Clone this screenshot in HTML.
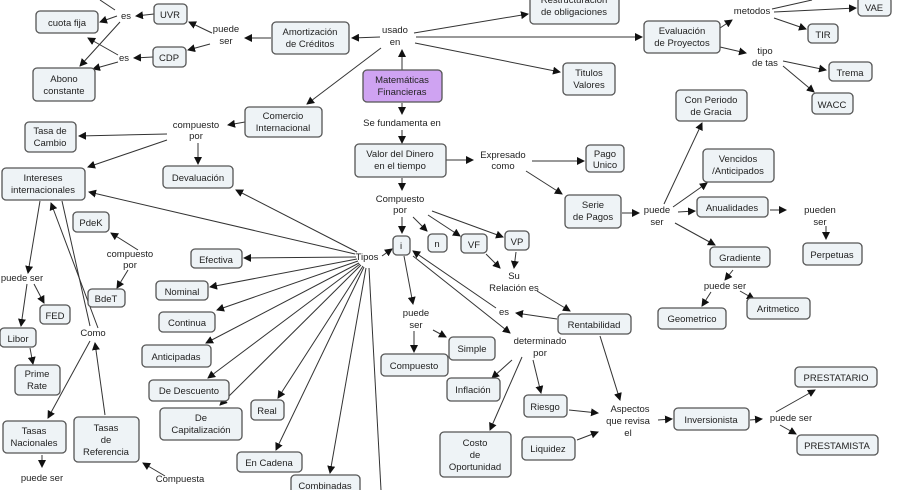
<!DOCTYPE html>
<html><head><meta charset="utf-8"><style>
html,body{margin:0;padding:0;background:#fff;width:900px;height:490px;overflow:hidden}
svg{display:block}
text{font-family:"Liberation Sans",sans-serif;font-size:9.5px;fill:#222;text-anchor:middle}
.b{fill:#eef3f6;stroke:#555;stroke-width:1.3}
.l{stroke:#333;stroke-width:1;fill:none;marker-end:url(#a)}
.n{stroke:#333;stroke-width:1;fill:none}
</style></head><body>
<svg width="900" height="490" viewBox="0 0 900 490">
<defs><marker id="a" markerWidth="8" markerHeight="8" refX="7" refY="4" orient="auto" markerUnits="userSpaceOnUse"><path d="M0,0 L8,4 L0,8 z" fill="#111"/></marker></defs>
<g>
<!-- edges -->
<line class="l" x1="154" y1="14" x2="136" y2="16"/>
<line class="l" x1="117" y1="16" x2="100" y2="22"/>
<line class="n" x1="115" y1="10" x2="100" y2="0"/>
<line class="l" x1="120" y1="22" x2="80" y2="66"/>
<line class="l" x1="153" y1="57" x2="134" y2="58"/>
<line class="l" x1="118" y1="55" x2="88" y2="38"/>
<line class="l" x1="118" y1="62" x2="93" y2="69"/>
<line class="l" x1="212" y1="33" x2="189" y2="22"/>
<line class="l" x1="210" y1="44" x2="188" y2="50"/>
<line class="l" x1="271" y1="38" x2="245" y2="38"/>
<line class="l" x1="380" y1="37" x2="352" y2="38"/>
<line class="l" x1="402" y1="70" x2="402" y2="50"/>
<line class="l" x1="414" y1="33" x2="528" y2="14"/>
<line class="l" x1="416" y1="37" x2="642" y2="37"/>
<line class="l" x1="415" y1="43" x2="560" y2="72"/>
<line class="l" x1="381" y1="48" x2="307" y2="104"/>
<line class="l" x1="720" y1="28" x2="732" y2="20"/>
<line class="n" x1="772" y1="9" x2="812" y2="0"/>
<line class="l" x1="774" y1="12" x2="856" y2="8"/>
<line class="l" x1="774" y1="18" x2="806" y2="29"/>
<line class="l" x1="720" y1="47" x2="746" y2="53"/>
<line class="l" x1="783" y1="61" x2="826" y2="70"/>
<line class="l" x1="783" y1="66" x2="814" y2="92"/>
<line class="l" x1="402" y1="103" x2="402" y2="114"/>
<line class="l" x1="402" y1="130" x2="402" y2="143"/>
<line class="l" x1="245" y1="122" x2="228" y2="125"/>
<line class="l" x1="167" y1="134" x2="79" y2="136"/>
<line class="l" x1="167" y1="140" x2="88" y2="167"/>
<line class="l" x1="198" y1="143" x2="198" y2="164"/>
<line class="l" x1="402" y1="178" x2="402" y2="190"/>
<line class="l" x1="446" y1="160" x2="473" y2="160"/>
<line class="l" x1="532" y1="161" x2="584" y2="161"/>
<line class="l" x1="526" y1="171" x2="562" y2="194"/>
<line class="l" x1="402" y1="217" x2="402" y2="233"/>
<line class="l" x1="413" y1="217" x2="427" y2="231"/>
<line class="l" x1="428" y1="215" x2="460" y2="236"/>
<line class="l" x1="432" y1="211" x2="503" y2="237"/>
<line class="l" x1="622" y1="213" x2="639" y2="213"/>
<line class="l" x1="664" y1="204" x2="702" y2="123"/>
<line class="l" x1="673" y1="207" x2="707" y2="183"/>
<line class="l" x1="678" y1="212" x2="695" y2="211"/>
<line class="l" x1="675" y1="223" x2="715" y2="245"/>
<line class="l" x1="770" y1="210" x2="786" y2="210"/>
<line class="l" x1="826" y1="226" x2="826" y2="239"/>
<line class="l" x1="733" y1="270" x2="725" y2="280"/>
<line class="l" x1="711" y1="292" x2="702" y2="306"/>
<line class="l" x1="740" y1="291" x2="754" y2="299"/>
<line class="l" x1="486" y1="254" x2="500" y2="268"/>
<line class="l" x1="516" y1="252" x2="514" y2="268"/>
<line class="l" x1="537" y1="291" x2="570" y2="311"/>
<line class="l" x1="557" y1="319" x2="516" y2="313"/>
<line class="l" x1="496" y1="308" x2="413" y2="251"/>
<line class="l" x1="413" y1="256" x2="510" y2="333"/>
<line class="l" x1="512" y1="360" x2="492" y2="378"/>
<line class="l" x1="522" y1="357" x2="490" y2="430"/>
<line class="l" x1="533" y1="360" x2="541" y2="393"/>
<line class="l" x1="569" y1="410" x2="598" y2="413"/>
<line class="l" x1="577" y1="440" x2="598" y2="432"/>
<line class="l" x1="600" y1="336" x2="620" y2="400"/>
<line class="l" x1="658" y1="420" x2="672" y2="419"/>
<line class="l" x1="750" y1="420" x2="762" y2="419"/>
<line class="l" x1="776" y1="412" x2="815" y2="390"/>
<line class="l" x1="780" y1="425" x2="796" y2="434"/>
<line class="l" x1="404" y1="256" x2="413" y2="304"/>
<line class="l" x1="414" y1="331" x2="414" y2="352"/>
<line class="l" x1="433" y1="330" x2="446" y2="337"/>
<line class="l" x1="382" y1="256" x2="392" y2="249"/>
<line class="l" x1="355" y1="254" x2="89" y2="192"/>
<line class="l" x1="357" y1="252" x2="236" y2="190"/>
<line class="l" x1="356" y1="257" x2="244" y2="258"/>
<line class="l" x1="357" y1="259" x2="210" y2="287"/>
<line class="l" x1="358" y1="261" x2="217" y2="310"/>
<line class="l" x1="359" y1="263" x2="206" y2="343"/>
<line class="l" x1="360" y1="264" x2="208" y2="378"/>
<line class="l" x1="361" y1="265" x2="220" y2="405"/>
<line class="l" x1="363" y1="266" x2="278" y2="398"/>
<line class="l" x1="364" y1="267" x2="276" y2="450"/>
<line class="l" x1="366" y1="268" x2="330" y2="473"/>
<line class="n" x1="369" y1="268" x2="381" y2="490"/>
<line class="l" x1="138" y1="250" x2="111" y2="233"/>
<line class="l" x1="128" y1="270" x2="117" y2="288"/>
<line class="l" x1="40" y1="201" x2="28" y2="273"/>
<line class="n" x1="62" y1="201" x2="90" y2="326"/>
<line class="l" x1="98" y1="328" x2="51" y2="203"/>
<line class="l" x1="27" y1="284" x2="21" y2="326"/>
<line class="l" x1="34" y1="284" x2="44" y2="303"/>
<line class="l" x1="30" y1="348" x2="33" y2="364"/>
<line class="l" x1="90" y1="341" x2="48" y2="418"/>
<line class="l" x1="105" y1="415" x2="95" y2="343"/>
<line class="l" x1="42" y1="455" x2="42" y2="467"/>
<line class="l" x1="165" y1="476" x2="143" y2="463"/>
<!-- nodes -->
<rect class="b" x="36" y="11" width="62" height="22" rx="4"/><text x="67" y="26">cuota fija</text>
<rect class="b" x="154" y="4" width="33" height="20" rx="4"/><text x="170" y="18">UVR</text>
<rect class="b" x="153" y="47" width="33" height="20" rx="4"/><text x="169" y="61">CDP</text>
<rect class="b" x="33" y="68" width="62" height="33" rx="4"/><text x="64" y="82">Abono</text><text x="64" y="94">constante</text>
<rect class="b" x="272" y="22" width="77" height="32" rx="4"/><text x="310" y="35">Amortización</text><text x="310" y="47">de Créditos</text>
<rect class="b" x="530" y="-8" width="89" height="32" rx="4"/><text x="574" y="3">Restructuración</text><text x="574" y="15">de obligaciones</text>
<rect class="b" x="644" y="21" width="76" height="32" rx="4"/><text x="682" y="34">Evaluación</text><text x="682" y="46">de Proyectos</text>
<rect class="b" x="858" y="-3" width="33" height="19" rx="4"/><text x="874" y="11">VAE</text>
<rect class="b" x="808" y="24" width="30" height="19" rx="4"/><text x="823" y="38">TIR</text>
<rect class="b" x="829" y="62" width="43" height="19" rx="4"/><text x="850" y="76">Trema</text>
<rect class="b" x="812" y="93" width="41" height="21" rx="4"/><text x="832" y="108">WACC</text>
<rect class="b" x="563" y="63" width="52" height="32" rx="4"/><text x="589" y="76">Titulos</text><text x="589" y="88">Valores</text>
<rect x="363" y="70" width="79" height="32" rx="4" fill="#cfa3f2" stroke="#555" stroke-width="1.3"/><text x="402" y="83">Matemáticas</text><text x="402" y="95">Financieras</text>
<rect class="b" x="245" y="107" width="77" height="30" rx="4"/><text x="283" y="119">Comercio</text><text x="283" y="131">Internacional</text>
<rect class="b" x="25" y="122" width="51" height="30" rx="4"/><text x="50" y="134">Tasa de</text><text x="50" y="146">Cambio</text>
<rect class="b" x="2" y="168" width="83" height="32" rx="4"/><text x="43" y="181">Intereses</text><text x="43" y="193">internacionales</text>
<rect class="b" x="163" y="166" width="70" height="22" rx="4"/><text x="198" y="181">Devaluación</text>
<rect class="b" x="355" y="144" width="91" height="33" rx="4"/><text x="400" y="157">Valor del Dinero</text><text x="400" y="169">en el tiempo</text>
<rect class="b" x="586" y="145" width="38" height="27" rx="4"/><text x="605" y="157">Pago</text><text x="605" y="168">Unico</text>
<rect class="b" x="565" y="195" width="56" height="33" rx="4"/><text x="593" y="208">Serie</text><text x="593" y="220">de Pagos</text>
<rect class="b" x="676" y="90" width="71" height="31" rx="4"/><text x="711" y="103">Con Periodo</text><text x="711" y="115">de Gracia</text>
<rect class="b" x="703" y="149" width="71" height="33" rx="4"/><text x="738" y="162">Vencidos</text><text x="738" y="174">/Anticipados</text>
<rect class="b" x="697" y="197" width="71" height="20" rx="4"/><text x="732" y="211">Anualidades</text>
<rect class="b" x="803" y="243" width="59" height="22" rx="4"/><text x="832" y="258">Perpetuas</text>
<rect class="b" x="710" y="247" width="60" height="20" rx="4"/><text x="740" y="261">Gradiente</text>
<rect class="b" x="658" y="308" width="68" height="21" rx="4"/><text x="692" y="322">Geometrico</text>
<rect class="b" x="747" y="298" width="63" height="21" rx="4"/><text x="778" y="312">Aritmetico</text>
<rect class="b" x="393" y="236" width="17" height="19" rx="4"/><text x="401" y="249">i</text>
<rect class="b" x="428" y="234" width="19" height="18" rx="4"/><text x="437" y="247">n</text>
<rect class="b" x="461" y="234" width="26" height="19" rx="4"/><text x="474" y="248">VF</text>
<rect class="b" x="505" y="231" width="24" height="19" rx="4"/><text x="517" y="245">VP</text>
<rect class="b" x="73" y="212" width="36" height="20" rx="4"/><text x="91" y="226">PdeK</text>
<rect class="b" x="88" y="289" width="37" height="18" rx="4"/><text x="106" y="302">BdeT</text>
<rect class="b" x="191" y="249" width="51" height="19" rx="4"/><text x="216" y="263">Efectiva</text>
<rect class="b" x="156" y="281" width="52" height="19" rx="4"/><text x="182" y="295">Nominal</text>
<rect class="b" x="159" y="312" width="56" height="20" rx="4"/><text x="187" y="326">Continua</text>
<rect class="b" x="142" y="345" width="69" height="22" rx="4"/><text x="176" y="360">Anticipadas</text>
<rect class="b" x="149" y="380" width="80" height="21" rx="4"/><text x="189" y="394">De Descuento</text>
<rect class="b" x="160" y="408" width="82" height="32" rx="4"/><text x="201" y="421">De</text><text x="201" y="433">Capitalización</text>
<rect class="b" x="251" y="400" width="33" height="20" rx="4"/><text x="267" y="414">Real</text>
<rect class="b" x="237" y="452" width="65" height="20" rx="4"/><text x="269" y="466">En Cadena</text>
<rect class="b" x="291" y="475" width="69" height="20" rx="4"/><text x="325" y="489">Combinadas</text>
<rect class="b" x="40" y="305" width="30" height="19" rx="4"/><text x="55" y="319">FED</text>
<rect class="b" x="0" y="328" width="36" height="19" rx="4"/><text x="18" y="342">Libor</text>
<rect class="b" x="15" y="365" width="45" height="30" rx="4"/><text x="37" y="377">Prime</text><text x="37" y="389">Rate</text>
<rect class="b" x="3" y="421" width="63" height="32" rx="4"/><text x="34" y="434">Tasas</text><text x="34" y="446">Nacionales</text>
<rect class="b" x="74" y="417" width="65" height="45" rx="4"/><text x="106" y="431">Tasas</text><text x="106" y="443">de</text><text x="106" y="455">Referencia</text>
<rect class="b" x="381" y="354" width="67" height="22" rx="4"/><text x="414" y="369">Compuesto</text>
<rect class="b" x="449" y="337" width="46" height="23" rx="4"/><text x="472" y="352">Simple</text>
<rect class="b" x="558" y="314" width="73" height="20" rx="4"/><text x="594" y="328">Rentabilidad</text>
<rect class="b" x="447" y="378" width="53" height="23" rx="4"/><text x="473" y="393">Inflación</text>
<rect class="b" x="440" y="432" width="71" height="45" rx="4"/><text x="475" y="446">Costo</text><text x="475" y="458">de</text><text x="475" y="470">Oportunidad</text>
<rect class="b" x="524" y="395" width="43" height="22" rx="4"/><text x="545" y="410">Riesgo</text>
<rect class="b" x="522" y="437" width="53" height="23" rx="4"/><text x="548" y="452">Liquidez</text>
<rect class="b" x="674" y="408" width="75" height="22" rx="4"/><text x="711" y="423">Inversionista</text>
<rect class="b" x="795" y="367" width="82" height="20" rx="4"/><text x="836" y="381">PRESTATARIO</text>
<rect class="b" x="797" y="435" width="81" height="20" rx="4"/><text x="837" y="449">PRESTAMISTA</text>
<!-- labels -->
<text x="126" y="19">es</text>
<text x="124" y="61">es</text>
<text x="226" y="32">puede</text><text x="226" y="44">ser</text>
<text x="395" y="33">usado</text><text x="395" y="45">en</text>
<text x="402" y="126">Se fundamenta en</text>
<text x="196" y="128">compuesto</text><text x="196" y="139">por</text>
<text x="400" y="202">Compuesto</text><text x="400" y="213">por</text>
<text x="503" y="158">Expresado</text><text x="503" y="169">como</text>
<text x="657" y="213">puede</text><text x="657" y="225">ser</text>
<text x="752" y="14">metodos</text>
<text x="765" y="54">tipo</text><text x="765" y="66">de tas</text>
<text x="820" y="213">pueden</text><text x="820" y="225">ser</text>
<text x="725" y="289">puede ser</text>
<text x="367" y="260">Tipos</text>
<text x="130" y="257">compuesto</text><text x="130" y="268">por</text>
<text x="22" y="281">puede ser</text>
<text x="93" y="336">Como</text>
<text x="416" y="316">puede</text><text x="416" y="328">ser</text>
<text x="514" y="279">Su</text><text x="514" y="291">Relación es</text>
<text x="504" y="315">es</text>
<text x="540" y="344">determinado</text><text x="540" y="356">por</text>
<text x="630" y="412">Aspectos</text><text x="628" y="424">que revisa</text><text x="628" y="436">el</text>
<text x="791" y="421">puede ser</text>
<text x="42" y="481">puede ser</text>
<text x="180" y="482">Compuesta</text>
</g>
</svg>
</body></html>
